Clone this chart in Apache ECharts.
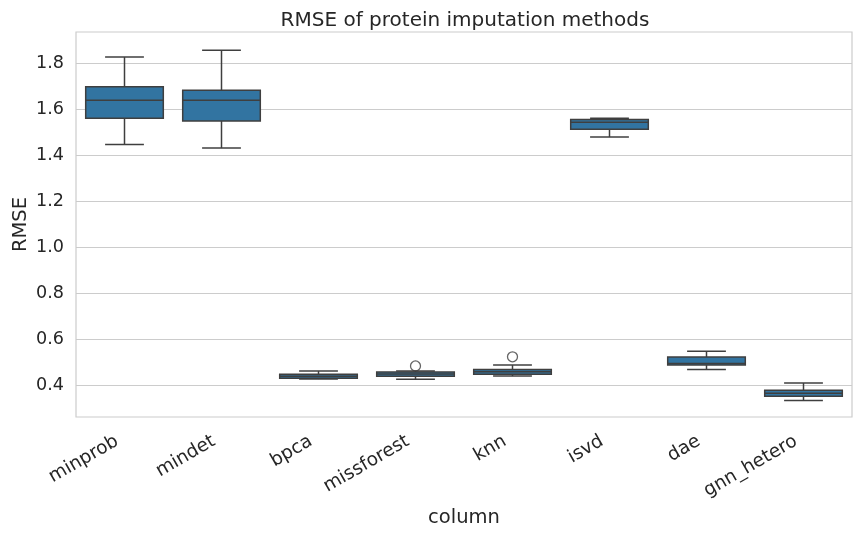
<!DOCTYPE html>
<html>
<head>
<meta charset="utf-8">
<script src="https://cdn.jsdelivr.net/npm/echarts@6/dist/echarts.min.js"></script>
<style>
  html, body { margin: 0; padding: 0; background: #fff; }
  #main { width: 861px; height: 536px; }
</style>
</head>
<body>
<div id="main"></div>
<script>
// methods on the x axis
const categories = ['minprob', 'mindet', 'bpca', 'missforest', 'knn', 'isvd', 'dae', 'gnn_hetero'];
// box statistics
const whiskerLow  = [1.447, 1.431, 0.426, 0.425, 0.439, 1.479, 0.468, 0.333];
const q1          = [1.561, 1.549, 0.430, 0.438, 0.447, 1.513, 0.487, 0.351];
const median      = [1.639, 1.639, 0.438, 0.448, 0.458, 1.543, 0.494, 0.364];
const q3          = [1.698, 1.683, 0.447, 0.457, 0.468, 1.555, 0.522, 0.377];
const whiskerHigh = [1.827, 1.857, 0.461, 0.461, 0.487, 1.561, 0.547, 0.409];
// outlier points
const outlierCats = ['missforest', 'knn'];
const outlierVals = [0.483, 0.523];
const yTicks = [0.4, 0.6, 0.8, 1.0, 1.2, 1.4, 1.6, 1.8];

const boxData = categories.map((c, i) => [i, whiskerLow[i], q1[i], median[i], q3[i], whiskerHigh[i]]);
const outlierData = outlierCats.map((c, i) => [categories.indexOf(c), outlierVals[i]]);

const edge = '#3f3f3f';
const fill = '#3274a1';

const chart = echarts.init(document.getElementById('main'), null, { renderer: 'canvas' });

const option = {
  backgroundColor: '#fff',
  animation: false,
  textStyle: { fontFamily: 'DejaVu Sans' },
  title: {
    text: 'RMSE of protein imputation methods',
    left: 460, top: 6, textAlign: 'center',
    textStyle: { fontSize: 20, fontWeight: 'normal', color: '#262626', fontFamily: 'DejaVu Sans' }
  },
  grid: {
    left: 76, right: 9, top: 32, bottom: 119,
    outerBoundsMode: 'none',
    containLabel: false,
    show: true, borderColor: '#cccccc', borderWidth: 1.2, backgroundColor: '#fff'
  },
  xAxis: {
    type: 'category',
    data: categories,
    name: 'column',
    nameLocation: 'middle',
    nameGap: 91,
    nameMoveOverlap: false,
    nameTextStyle: { fontSize: 19.5, color: '#262626' },
    axisLine: { show: false },
    axisTick: { show: false },
    splitLine: { show: false },
    axisLabel: {
      rotate: 30, fontSize: 18.5, color: '#262626', interval: 0,
      margin: 36, verticalAlign: 'bottom', lineHeight: 30
    }
  },
  yAxis: {
    type: 'value',
    min: 0.261, max: 1.936,
    name: 'RMSE',
    nameLocation: 'middle',
    nameGap: 45,
    nameMoveOverlap: false,
    nameTextStyle: { fontSize: 19.5, color: '#262626' },
    axisLine: { show: false },
    axisTick: { show: false, customValues: yTicks },
    axisLabel: {
      fontSize: 17.6, color: '#262626', margin: 12,
      customValues: yTicks,
      formatter: v => v.toFixed(1)
    },
    splitLine: { show: true, lineStyle: { color: '#cccccc', width: 1 } }
  },
  series: [
    {
      type: 'custom',
      data: boxData,
      encode: { x: 0, y: [1, 2, 3, 4, 5] },
      renderItem: (params, api) => {
        const i = api.value(0);
        const lo = api.coord([i, api.value(1)]);
        const b1 = api.coord([i, api.value(2)]);
        const md = api.coord([i, api.value(3)]);
        const b3 = api.coord([i, api.value(4)]);
        const hi = api.coord([i, api.value(5)]);
        const band = api.size([1, 0])[0];
        const half = band * 0.4;
        const cap = half / 2;
        const cx = lo[0];
        const ls = { stroke: edge, lineWidth: 1.5 };
        return {
          type: 'group',
          children: [
            { type: 'line', shape: { x1: cx, y1: lo[1], x2: cx, y2: b1[1] }, style: ls },
            { type: 'line', shape: { x1: cx, y1: b3[1], x2: cx, y2: hi[1] }, style: ls },
            { type: 'line', shape: { x1: cx - cap, y1: lo[1], x2: cx + cap, y2: lo[1] }, style: ls },
            { type: 'line', shape: { x1: cx - cap, y1: hi[1], x2: cx + cap, y2: hi[1] }, style: ls },
            { type: 'rect', shape: { x: cx - half, y: b3[1], width: half * 2, height: b1[1] - b3[1] },
              style: { fill: fill, stroke: edge, lineWidth: 1.5 } },
            { type: 'line', shape: { x1: cx - half, y1: md[1], x2: cx + half, y2: md[1] }, style: ls }
          ]
        };
      }
    },
    {
      type: 'scatter',
      data: outlierData,
      symbol: 'circle',
      symbolSize: 10,
      itemStyle: { color: 'rgba(0,0,0,0)', borderColor: edge, borderWidth: 1.3 }
    }
  ]
};

chart.setOption(option);
</script>
</body>
</html>
